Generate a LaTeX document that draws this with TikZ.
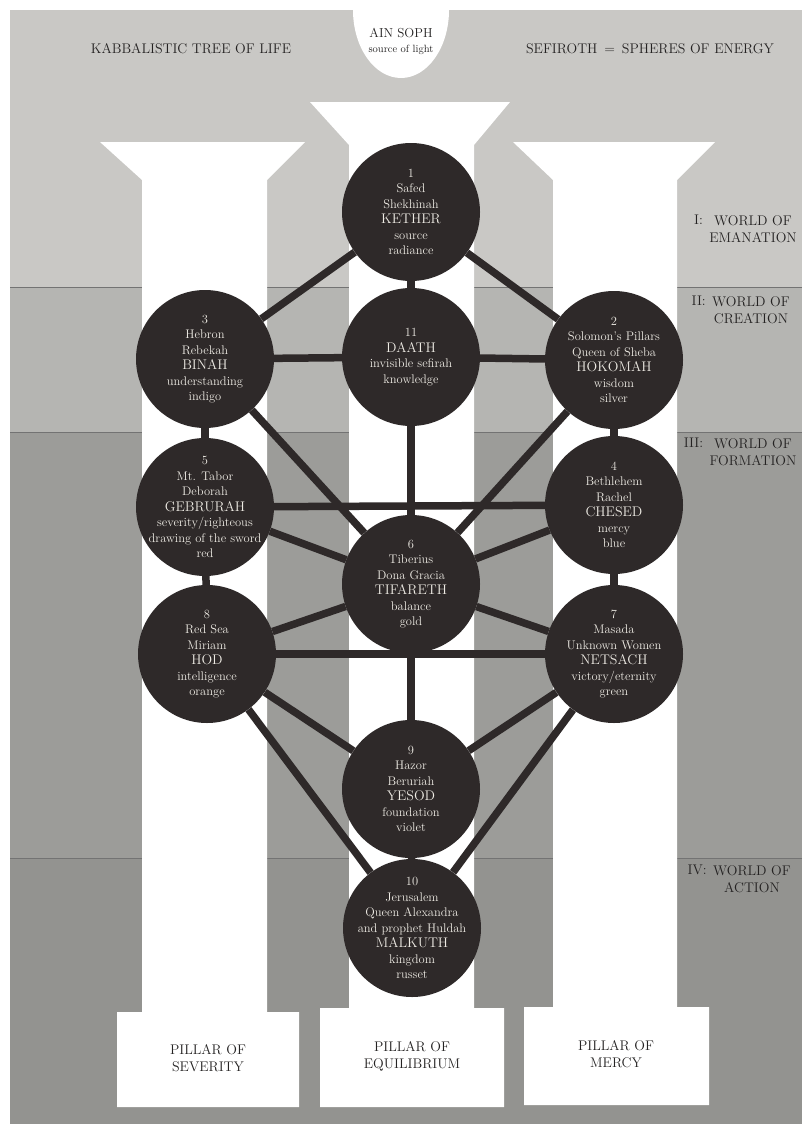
\documentclass[tikz,border=0pt]{standalone}
\usepackage{tikz}

\definecolor{bandI}{RGB}{201,200,197}
\definecolor{bandII}{RGB}{181,181,178}
\definecolor{bandIII}{RGB}{156,156,153}
\definecolor{bandIV}{RGB}{147,147,144}
\definecolor{orb}{RGB}{46,41,41}
\definecolor{orbtext}{RGB}{238,235,228}
\definecolor{ink}{RGB}{36,34,34}

\newcommand{\sefname}[1]{{\fontsize{14}{15}\selectfont #1}}

\begin{document}
\begin{tikzpicture}[x=1pt,y=-1pt]
\tikzset{ sefira/.style={circle, fill=orb, text=orbtext, minimum size=138pt, inner sep=-16pt, align=center, font=\fontsize{12.5}{15.5}\selectfont},
  bar/.style={draw=orb, line width=7.5pt},
  caption/.style={text=ink, font=\fontsize{14}{17}\selectfont, align=center},
  world/.style={text=ink, font=\fontsize{14}{17}\selectfont, align=center, inner sep=0pt},
  seam/.style={draw=black!55, line width=0.8pt},
}
\useasboundingbox (0,0) rectangle (802,1124);
%\draw [lightgray, dashed](0,0) grid [step=50] (802,1124);

% worlds
\fill [white] (0,0) rectangle (802,1124);
\fill [bandI]   (10,10)  rectangle (802,287);
\fill [bandII]  (10,287) rectangle (802,432);
\fill [bandIII] (10,432) rectangle (802,858);
\fill [bandIV]  (10,858) rectangle (802,1124);
\draw [seam] (10,287) -- (802,287);
\draw [seam] (10,432) -- (802,432);
\draw [seam] (10,858) -- (802,858);

% ain soph
\fill [white] (353,10) arc [start angle=180, end angle=0, x radius=48, y radius=68] -- cycle;

% pillars
\fill [white] (100,142) -- (305,142) -- (267,180) -- (267,1012) -- (299,1012) -- (299,1107)
  -- (117,1107) -- (117,1012) -- (142,1012) -- (142,180) -- cycle;
\fill [white] (310,102) -- (510,102) -- (474,145) -- (474,1008) -- (504,1008) -- (504,1107)
  -- (320,1107) -- (320,1008) -- (349,1008) -- (349,145) -- cycle;
\fill [white] (513,142) -- (715,142) -- (677,180) -- (677,1007) -- (709,1007) -- (709,1105)
  -- (524,1105) -- (524,1007) -- (553,1007) -- (553,180) -- cycle;

% sefiroth
\node [sefira] (K)  at (411,212) {1\\Safed\\Shekhinah\\\sefname{KETHER}\\source\\radiance};
\node [sefira] (Da) at (411,357) {11\\\sefname{DAATH}\\invisible sefirah\\knowledge};
\node [sefira] (Bi) at (205,359) {3\\Hebron\\Rebekah\\\sefname{BINAH}\\understanding\\indigo};
\node [sefira] (Hk) at (614,360) {2\\Solomon's Pillars\\Queen of Sheba\\\sefname{HOKOMAH}\\wisdom\\silver};
\node [sefira] (Ge) at (205,507) {5\\Mt. Tabor\\Deborah\\\sefname{GEBRURAH}\\severity/righteous\\drawing of the sword\\red};
\node [sefira] (Ch) at (614,505) {4\\Bethlehem\\Rachel\\\sefname{CHESED}\\mercy\\blue};
\node [sefira] (Ti) at (411,584) {6\\Tiberius\\Dona Gracia\\\sefname{TIFARETH}\\balance\\gold};
\node [sefira] (Ho) at (207,654) {8\\Red Sea\\Miriam\\\sefname{HOD}\\intelligence\\orange};
\node [sefira] (Ne) at (614,654) {7\\Masada\\Unknown Women\\\sefname{NETSACH}\\victory/eternity\\green};
\node [sefira] (Ye) at (411,789) {9\\Hazor\\Beruriah\\\sefname{YESOD}\\foundation\\violet};
\node [sefira] (Ma) at (412,928) {10\\Jerusalem\\Queen Alexandra\\and prophet Huldah\\\sefname{MALKUTH}\\kingdom\\russet};

% paths
\draw [bar] (K) -- (Bi);
\draw [bar] (K) -- (Hk);
\draw [bar] (K) -- (Da);
\draw [bar] (Bi) -- (Da);
\draw [bar] (Da) -- (Hk);
\draw [bar] (Bi) -- (Ge);
\draw [bar] (Hk) -- (Ch);
\draw [bar] (Bi) -- (Ti);
\draw [bar] (Hk) -- (Ti);
\draw [bar] (Da) -- (Ti);
\draw [bar] (Ge) -- (Ch);
\draw [bar] (Ge) -- (Ti);
\draw [bar] (Ch) -- (Ti);
\draw [bar] (Ge) -- (Ho);
\draw [bar] (Ch) -- (Ne);
\draw [bar] (Ho) -- (Ti);
\draw [bar] (Ne) -- (Ti);
\draw [bar] (Ho) -- (Ne);
\draw [bar] (Ti) -- (Ye);
\draw [bar] (Ho) -- (Ye);
\draw [bar] (Ne) -- (Ye);
\draw [bar] (Ho) -- (Ma);
\draw [bar] (Ne) -- (Ma);
\draw [bar] (Ye) -- (Ma);

% titles
\node [caption] (tree) at (191,49) {KABBALISTIC TREE OF LIFE};
\node [caption, font=\fontsize{13}{16}\selectfont] (ain) at (401,33) {AIN SOPH};
\node [text=ink, font=\fontsize{10.5}{12}\selectfont] (light) at (401,50) {source of light};
\node [caption] (sef)  at (650,49) {SEFIROTH \,=\, SPHERES OF ENERGY};

% worlds
\node [world] (w1) at (753,229) {WORLD OF\\EMANATION};
\node [world, anchor=north east] (n1) at ([xshift=-6pt]w1.north west) {I:};
\node [world] (w2) at (751,310) {WORLD OF\\CREATION};
\node [world, anchor=north east] (n2) at ([xshift=-6pt]w2.north west) {II:};
\node [world] (w3) at (753,452) {WORLD OF\\FORMATION};
\node [world, anchor=north east] (n3) at ([xshift=-6pt]w3.north west) {III:};
\node [world] (w4) at (752,879) {WORLD OF\\ACTION};
\node [world, anchor=north east] (n4) at ([xshift=-6pt]w4.north west) {IV:};

% pillars
\node [caption] (sev) at (208,1058) {PILLAR OF\\SEVERITY};
\node [caption] (equ) at (412,1056) {PILLAR OF\\EQUILIBRIUM};
\node [caption] (mer) at (616,1054) {PILLAR OF\\MERCY};

\end{tikzpicture}
\end{document}
